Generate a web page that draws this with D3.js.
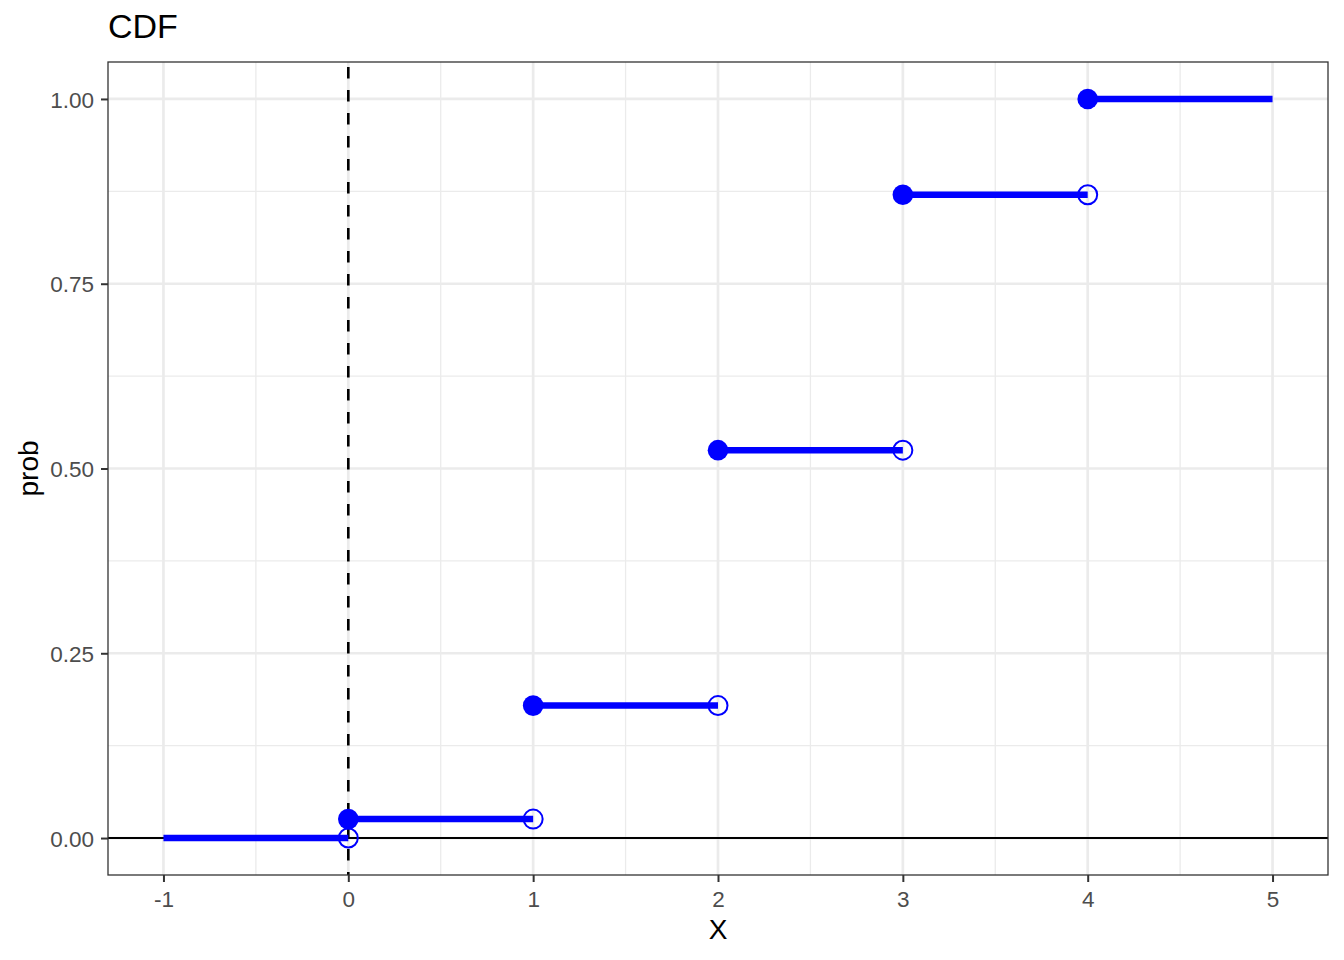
<!DOCTYPE html>
<html>
<head>
<meta charset="utf-8">
<script src="https://cdn.jsdelivr.net/npm/d3@7"></script>
<style>
  body { margin: 0; background: #fff; }
  text { font-family: "Liberation Sans", Arial, sans-serif; }
</style>
</head>
<body>
<svg id="chart" width="1344" height="960"></svg>
<script>
// step function data
const xs = [0, 1, 2, 3, 4];
const cdf = [0.0256, 0.1792, 0.5248, 0.8704, 1.0];
const prevCdf = [0, 0.0256, 0.1792, 0.5248, 0.8704];
const xTicks = [-1, 0, 1, 2, 3, 4, 5];
const yTicks = [0, 0.25, 0.5, 0.75, 1];
const xMinor = [-0.5, 0.5, 1.5, 2.5, 3.5, 4.5];
const yMinor = [0.125, 0.375, 0.625, 0.875];

const svg = d3.select("#chart");
const margin = { top: 62, right: 16, bottom: 85, left: 108 };
const width = 1344 - margin.left - margin.right;
const height = 960 - margin.top - margin.bottom;

const x = d3.scaleLinear().domain([-1.3, 5.3]).range([0, width]);
const y = d3.scaleLinear().domain([-0.05, 1.05]).range([height, 0]);

const g = svg.append("g")
  .attr("transform", `translate(${margin.left},${margin.top})`);

// grid
g.selectAll(".xminor").data(xMinor).enter().append("line")
  .attr("x1", d => x(d)).attr("x2", d => x(d))
  .attr("y1", 0).attr("y2", height)
  .attr("stroke", "#ebebeb").attr("stroke-width", 1.3);
g.selectAll(".yminor").data(yMinor).enter().append("line")
  .attr("y1", d => y(d)).attr("y2", d => y(d))
  .attr("x1", 0).attr("x2", width)
  .attr("stroke", "#ebebeb").attr("stroke-width", 1.3);
g.selectAll(".xmajor").data(xTicks).enter().append("line")
  .attr("x1", d => x(d)).attr("x2", d => x(d))
  .attr("y1", 0).attr("y2", height)
  .attr("stroke", "#ebebeb").attr("stroke-width", 2.7);
g.selectAll(".ymajor").data(yTicks).enter().append("line")
  .attr("y1", d => y(d)).attr("y2", d => y(d))
  .attr("x1", 0).attr("x2", width)
  .attr("stroke", "#ebebeb").attr("stroke-width", 2.7);

// reference lines
g.append("line")
  .attr("x1", 0).attr("x2", width)
  .attr("y1", y(0)).attr("y2", y(0))
  .attr("stroke", "#000").attr("stroke-width", 2);
g.append("line")
  .attr("x1", x(0)).attr("x2", x(0))
  .attr("y1", 0).attr("y2", height)
  .attr("stroke", "#000").attr("stroke-width", 2.6)
  .attr("stroke-dasharray", "11.5,11.5")
  .attr("stroke-dashoffset", -5);

// segments
const segs = [{ x0: -1, x1: 0, p: 0 }].concat(xs.map((d, i) => ({ x0: d, x1: d + 1, p: cdf[i] })));
g.selectAll(".seg").data(segs).enter().append("line")
  .attr("x1", d => x(d.x0)).attr("x2", d => x(d.x1))
  .attr("y1", d => y(d.p)).attr("y2", d => y(d.p))
  .attr("stroke", "#0000ff").attr("stroke-width", 6.5);

// open points (left limits)
g.selectAll(".open").data(xs).enter().append("circle")
  .attr("cx", d => x(d)).attr("cy", (d, i) => y(prevCdf[i]))
  .attr("r", 9.5)
  .attr("fill", "none").attr("stroke", "#0000ff").attr("stroke-width", 2);

// filled points
g.selectAll(".filled").data(xs).enter().append("circle")
  .attr("cx", d => x(d)).attr("cy", (d, i) => y(cdf[i]))
  .attr("r", 10.3)
  .attr("fill", "#0000ff");

// panel border
g.append("rect")
  .attr("width", width).attr("height", height)
  .attr("fill", "none").attr("stroke", "#333").attr("stroke-width", 1.3);

// axes
const xAxis = g.append("g").attr("transform", `translate(0,${height})`)
  .call(d3.axisBottom(x).tickValues(xTicks).tickSize(7).tickPadding(5).tickFormat(d => String(d)));
const yAxis = g.append("g")
  .call(d3.axisLeft(y).tickValues(yTicks).tickSize(7).tickPadding(7).tickFormat(d3.format(".2f")));
[xAxis, yAxis].forEach(a => {
  a.select(".domain").remove();
  a.selectAll(".tick line").attr("stroke", "#333").attr("stroke-width", 2);
  a.selectAll(".tick text").attr("fill", "#4d4d4d").attr("font-size", 22.5)
    .style("font-family", "'Liberation Sans', Arial, sans-serif");
});
xAxis.selectAll(".tick text").attr("dy", "0.9em");
yAxis.selectAll(".tick text").attr("dy", "0.36em");

// titles
svg.append("text")
  .attr("x", margin.left).attr("y", 38)
  .attr("font-size", 34).attr("fill", "#000")
  .text("CDF");
svg.append("text")
  .attr("x", margin.left + width / 2).attr("y", 939)
  .attr("text-anchor", "middle")
  .attr("font-size", 28).attr("fill", "#000")
  .text("X");
svg.append("text")
  .attr("transform", `translate(38,${margin.top + height / 2}) rotate(-90)`)
  .attr("text-anchor", "middle")
  .attr("font-size", 28).attr("fill", "#000")
  .text("prob");
</script>
</body>
</html>
